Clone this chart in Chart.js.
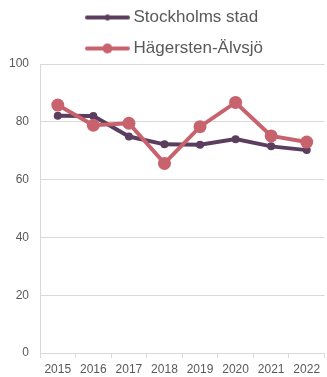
<!DOCTYPE html>
<html>
<head>
<meta charset="utf-8">
<script src="https://cdn.jsdelivr.net/npm/chart.js@4/dist/chart.umd.min.js"></script>
<style>
  html, body { margin: 0; padding: 0; background: #ffffff; overflow: hidden; }
  #wrap { width: 327px; height: 377px; overflow: hidden; }
  canvas { display: block; }
</style>
</head>
<body>
<div id="wrap"><canvas id="chart" width="331" height="377"></canvas></div>
<script>
const years = ['2015', '2016', '2017', '2018', '2019', '2020', '2021', '2022'];
const stockholmsStad = [82.1, 82.0, 74.9, 72.2, 72.1, 74.0, 71.5, 70.2];
const hagerstenAlvsjo = [85.8, 78.8, 79.5, 65.6, 78.3, 86.7, 75.1, 73.0];
const yTicks = [0, 20, 40, 60, 80, 100];

const PURPLE = '#5b3e5d';
const ROSE = '#c8626c';
const GRID = '#d9d9d9';
const TEXT = '#595959';
const FONT = '"Liberation Sans", Arial, sans-serif';

// Legend swatch: a thick line with a dot in the middle
function swatch(color, dotR) {
  const c = document.createElement('canvas');
  c.width = 50; c.height = 14;
  const g = c.getContext('2d');
  g.strokeStyle = color;
  g.lineWidth = 4;
  g.lineCap = 'round';
  g.beginPath();
  g.moveTo(7, 7); g.lineTo(48, 7);
  g.stroke();
  g.fillStyle = color;
  g.beginPath();
  g.arc(27.5, 7, dotR, 0, Math.PI * 2);
  g.fill();
  return c;
}
const swatches = [swatch(PURPLE, 3), swatch(ROSE, 5)];

// Fixed legend box: height reserved above the plot, and row start position
const LEGEND_HEIGHT = 64;
const LEGEND_X = 85;
const LEGEND_TOP = -5;
const legendPlacement = {
  id: 'legendPlacement',
  beforeLayout(chart) {
    const l = chart.legend;
    if (l && !l._fixedFit) {
      const fit = l.fit;
      l.fit = function () { fit.call(this); this.height = LEGEND_HEIGHT; };
      l._fixedFit = true;
    }
  },
  afterLayout(chart) {
    const l = chart.legend;
    const dx = LEGEND_X - (l.left + l.options.labels.padding);
    l.left += dx;
    l.right += dx;
    const dy = LEGEND_TOP - l.top;
    l.top += dy;
    l.bottom += dy;
  }
};

new Chart(document.getElementById('chart'), {
  type: 'line',
  data: {
    labels: years,
    datasets: [
      {
        label: 'Stockholms stad',
        data: stockholmsStad,
        borderColor: PURPLE,
        backgroundColor: PURPLE,
        borderWidth: 4,
        pointRadius: 4,
        pointBorderWidth: 0,
        tension: 0,
        order: 1
      },
      {
        label: 'Hägersten-Älvsjö',
        data: hagerstenAlvsjo,
        borderColor: ROSE,
        backgroundColor: ROSE,
        borderWidth: 4,
        pointRadius: 6.5,
        pointBorderWidth: 0,
        tension: 0,
        order: 0
      }
    ]
  },
  options: {
    responsive: false,
    animation: false,
    layout: { padding: { left: 0, right: 1, top: 0, bottom: 0 } },
    plugins: {
      tooltip: { enabled: false },
      legend: {
        position: 'top',
        align: 'start',
        labels: {
          usePointStyle: true,
          pointStyleWidth: 40,
          padding: 14,
          color: TEXT,
          font: { family: FONT, size: 17 },
          sort: (a, b) => a.datasetIndex - b.datasetIndex,
          generateLabels(chart) {
            const items = Chart.defaults.plugins.legend.labels.generateLabels(chart);
            items.forEach(it => { it.pointStyle = swatches[it.datasetIndex]; });
            return items;
          }
        }
      }
    },
    scales: {
      x: {
        offset: true,
        afterFit(scale) { scale.height = 24; },
        grid: {
          display: true,
          drawOnChartArea: false,
          drawTicks: true,
          tickLength: 5,
          color: GRID,
          offset: true
        },
        border: { color: GRID, width: 1 },
        ticks: {
          color: TEXT,
          font: { family: FONT, size: 12 },
          padding: 4,
          maxRotation: 0,
          autoSkip: false
        }
      },
      y: {
        min: 0,
        max: 100,
        afterBuildTicks(scale) { scale.ticks = yTicks.map(v => ({ value: v })); },
        afterFit(scale) { scale.width = 40; },
        grid: { color: GRID, drawTicks: false },
        border: { color: GRID, width: 1 },
        ticks: {
          color: TEXT,
          font: { family: FONT, size: 12 },
          padding: 11
        }
      }
    }
  },
  plugins: [legendPlacement]
});
</script>
</body>
</html>
